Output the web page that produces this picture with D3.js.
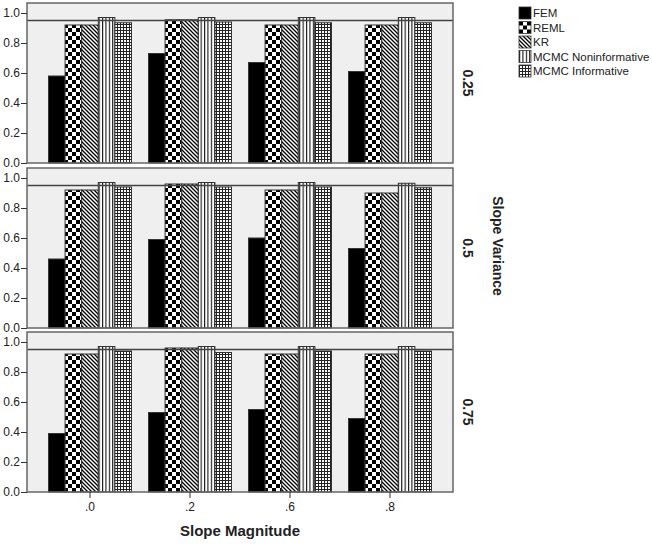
<!DOCTYPE html>
<html><head><meta charset="utf-8">
<script src="https://cdn.jsdelivr.net/npm/d3@7"></script>
<style>body{margin:0;background:#fff}svg{display:block}text{font-family:"Liberation Sans",Arial,sans-serif}</style>
</head><body><svg id="c" width="652" height="544"></svg>
<script>
const categories = [".0", ".2", ".6", ".8"];
const seriesNames = ["FEM", "REML", "KR", "MCMC Noninformative", "MCMC Informative"];
const panelLabels = ["0.25", "0.5", "0.75"];
const yTicks = [0, 0.2, 0.4, 0.6, 0.8, 1.0];
const referenceValue = 0.95;
const fem_025  = [0.58, 0.73, 0.67, 0.61];
const reml_025 = [0.92, 0.955, 0.92, 0.92];
const kr_025   = [0.92, 0.955, 0.92, 0.92];
const mni_025  = [0.97, 0.97, 0.97, 0.97];
const mi_025   = [0.935, 0.94, 0.935, 0.935];
const fem_05   = [0.46, 0.59, 0.60, 0.53];
const reml_05  = [0.92, 0.96, 0.92, 0.90];
const kr_05    = [0.92, 0.96, 0.92, 0.90];
const mni_05   = [0.97, 0.97, 0.97, 0.965];
const mi_05    = [0.94, 0.94, 0.94, 0.935];
const fem_075  = [0.39, 0.53, 0.55, 0.49];
const reml_075 = [0.92, 0.96, 0.92, 0.92];
const kr_075   = [0.92, 0.96, 0.92, 0.92];
const mni_075  = [0.97, 0.97, 0.97, 0.97];
const mi_075   = [0.94, 0.93, 0.94, 0.94];
const panels = [
  [fem_025, reml_025, kr_025, mni_025, mi_025],
  [fem_05, reml_05, kr_05, mni_05, mi_05],
  [fem_075, reml_075, kr_075, mni_075, mi_075]
];

const svg = d3.select("#c");
const defs = svg.append("defs");
let p = defs.append("pattern").attr("id","pat1").attr("patternUnits","userSpaceOnUse").attr("width",8).attr("height",8);
p.append("rect").attr("width",8).attr("height",8).attr("fill","#fff");
p.append("rect").attr("width",4).attr("height",4).attr("fill","#000");
p.append("rect").attr("x",4).attr("y",4).attr("width",4).attr("height",4).attr("fill","#000");
p = defs.append("pattern").attr("id","pat2").attr("patternUnits","userSpaceOnUse").attr("width",4).attr("height",4);
p.append("rect").attr("width",4).attr("height",4).attr("fill","#fff");
p.append("path").attr("d","M-1,-1L5,5M-1,3L1,5M3,-1L5,1").attr("stroke","#000").attr("stroke-width",1.3);
p = defs.append("pattern").attr("id","pat3").attr("patternUnits","userSpaceOnUse").attr("width",3.4).attr("height",4);
p.append("rect").attr("width",3.4).attr("height",4).attr("fill","#fff");
p.append("rect").attr("x",0).attr("width",1.1).attr("height",4).attr("fill","#111");
p = defs.append("pattern").attr("id","pat4").attr("patternUnits","userSpaceOnUse").attr("width",3).attr("height",3);
p.append("rect").attr("width",3).attr("height",3).attr("fill","#fff");
p.append("rect").attr("width",1).attr("height",3).attr("fill","#222");
p.append("rect").attr("width",3).attr("height",1).attr("fill","#222");
const fills = ["#000", "url(#pat1)", "url(#pat2)", "url(#pat3)", "url(#pat4)"];

const left = 27, right = 453, panelH = 160;
const tops = [3, 168, 332];
const x = d3.scaleBand().domain(categories).range([left, right]).paddingInner(0.17).paddingOuter(0.215);
const xs = d3.scaleBand().domain(seriesNames).range([0, x.bandwidth()]);

panels.forEach((vals, pi) => {
  const top = tops[pi];
  const y = d3.scaleLinear().domain([0, 1.0667]).range([top + panelH, top]);
  const g = svg.append("g");
  g.append("rect").attr("x", left).attr("y", top).attr("width", right-left).attr("height", panelH).attr("fill", "#efefef");
  categories.forEach((c, ci) => {
    seriesNames.forEach((s, si) => {
      const v = vals[si][ci];
      g.append("rect").attr("x", x(c) + xs(s)).attr("y", y(v)).attr("width", xs.bandwidth()).attr("height", y(0) - y(v))
        .attr("fill", fills[si]).attr("stroke", "#333").attr("stroke-width", 1);
    });
  });
  g.append("line").attr("x1", left).attr("x2", right).attr("y1", y(referenceValue)).attr("y2", y(referenceValue)).attr("stroke", "#444").attr("stroke-width", 1.3);
  g.append("rect").attr("x", left).attr("y", top).attr("width", right-left).attr("height", panelH).attr("fill", "none").attr("stroke", "#666").attr("stroke-width", 1.5);
  const ya = g.append("g").attr("transform", `translate(${left},0)`).call(d3.axisLeft(y).tickValues(yTicks).tickFormat(d3.format(".1f")).tickSize(6).tickPadding(1));
  ya.select(".domain").remove();
  ya.selectAll("line").attr("stroke", "#333");
  ya.selectAll("text").attr("font-size", 12).attr("fill", "#222").attr("font-family", "Liberation Sans, Arial, sans-serif");
  g.append("text").attr("transform", `translate(${468},${top + panelH/2}) rotate(90)`).attr("text-anchor", "middle").attr("dy", "0.35em")
    .attr("font-size", 14).attr("font-weight", "bold").attr("fill", "#222").text(panelLabels[pi]);
  if (pi === panels.length - 1) {
    const xa = g.append("g").attr("transform", `translate(0,${top + panelH})`).call(d3.axisBottom(x).tickSize(6).tickPadding(4));
    xa.select(".domain").remove();
    xa.selectAll("line").attr("stroke", "#333");
    xa.selectAll("text").attr("font-size", 12).attr("fill", "#222").attr("font-family", "Liberation Sans, Arial, sans-serif");
  }
});

svg.append("text").attr("transform", `translate(498,246) rotate(90)`).attr("text-anchor", "middle").attr("dy", "0.35em")
  .attr("font-size", 14).attr("font-weight", "bold").attr("fill", "#222").text("Slope Variance");
svg.append("text").attr("x", (left + right)/2).attr("y", 536).attr("text-anchor", "middle")
  .attr("font-size", 15).attr("font-weight", "bold").attr("fill", "#222").text("Slope Magnitude");

const lg = svg.append("g").attr("transform", "translate(519,7)");
seriesNames.forEach((s, i) => {
  const row = lg.append("g").attr("transform", `translate(0,${i * 14.5})`);
  row.append("rect").attr("width", 12).attr("height", 12).attr("fill", fills[i]).attr("stroke", "#333").attr("stroke-width", 0.8);
  row.append("text").attr("x", 14).attr("y", 6).attr("dy", "0.35em").attr("font-size", 11.5).attr("fill", "#222").text(s);
});
</script></body></html>
